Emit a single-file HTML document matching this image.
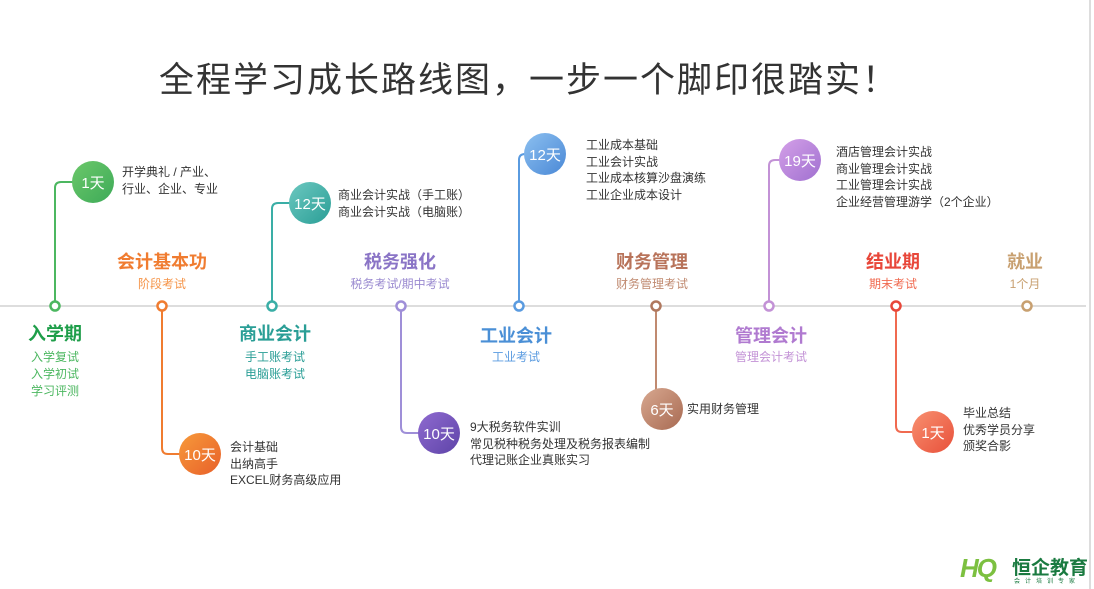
<!DOCTYPE html>
<html><head><meta charset="utf-8"><style>
body{margin:0;width:1094px;height:589px;background:#fff;position:relative;overflow:hidden;font-family:"Liberation Sans","Noto Sans CJK SC",sans-serif;}
.a{position:absolute;white-space:nowrap;}
.t{font-size:12px;color:#333;line-height:16.5px;}
.h{font-size:18px;font-weight:bold;transform:translateX(-50%);text-align:center;}
.s{font-size:12px;transform:translateX(-50%);text-align:center;line-height:17px;}
.c{position:absolute;border-radius:50%;color:#fff;font-size:15px;display:flex;align-items:center;justify-content:center;width:42px;height:42px;margin:-21px 0 0 -21px;}
</style></head><body>
<div class="a" style="left:0;right:0;top:52px;text-align:center;font-size:35px;letter-spacing:2px;color:#333;padding-right:36px;">全程学习成长路线图，一步一个脚印很踏实！</div>
<div style="position:absolute;left:1089px;top:0;width:2px;height:589px;background:#ddd"></div>
<svg width="1094" height="589" style="position:absolute;left:0;top:0">
<line x1="0" y1="306" x2="1086" y2="306" stroke="#ddd" stroke-width="2"/>
<g fill="none" stroke-width="2">
<path d="M55 306V188q0-6 6-6H80" stroke="#4cb760"/>
<path d="M162 306V448q0 6 6 6H185" stroke="#f07c30"/>
<path d="M272 306V209q0-6 6-6H295" stroke="#3aaea6"/>
<path d="M401 306V427q0 6 6 6H424" stroke="#9f8fd8"/>
<path d="M519 306V160q0-6 6-6H530" stroke="#5a9be0"/>
<path d="M656 306V403q0 6 6 6H648" stroke="#c08a70"/>
<path d="M769 306V166q0-6 6-6H785" stroke="#c392d6"/>
<path d="M896 306V426q0 6 6 6H918" stroke="#f06a50"/>
</g>
<g fill="#fff" stroke-width="2.5">
<circle cx="55" cy="306" r="4.5" stroke="#4cb760"/>
<circle cx="162" cy="306" r="4.5" stroke="#f07c30"/>
<circle cx="272" cy="306" r="4.5" stroke="#3aaea6"/>
<circle cx="401" cy="306" r="4.5" stroke="#9f8fd8"/>
<circle cx="519" cy="306" r="4.5" stroke="#5a9be0"/>
<circle cx="656" cy="306" r="4.5" stroke="#b0785e"/>
<circle cx="769" cy="306" r="4.5" stroke="#c392d6"/>
<circle cx="896" cy="306" r="4.5" stroke="#e8473a"/>
<circle cx="1027" cy="306" r="4.5" stroke="#c8a070"/>
</g>
</svg>
<div class="c" style="left:93px;top:182px;background:linear-gradient(135deg,#6cc86a,#3daa58)">1天</div>
<div class="c" style="left:310px;top:203px;background:linear-gradient(135deg,#6cc8c0,#2a9e96)">12天</div>
<div class="c" style="left:200px;top:454px;background:linear-gradient(135deg,#f79a3a,#e8602a)">10天</div>
<div class="c" style="left:439px;top:433px;background:linear-gradient(135deg,#8f6ad0,#5e44a8)">10天</div>
<div class="c" style="left:545px;top:154px;background:linear-gradient(135deg,#8cc0f0,#4a88d6)">12天</div>
<div class="c" style="left:662px;top:409px;background:linear-gradient(135deg,#d8a890,#a86a52)">6天</div>
<div class="c" style="left:800px;top:160px;background:linear-gradient(135deg,#d4a0e8,#a070d0)">19天</div>
<div class="c" style="left:933px;top:432px;background:linear-gradient(135deg,#f89070,#e8503a)">1天</div>

<div class="a t" style="left:122px;top:164px">开学典礼 / 产业、<br>行业、企业、专业</div>
<div class="a t" style="left:338px;top:187px">商业会计实战（手工账）<br>商业会计实战（电脑账）</div>
<div class="a t" style="left:230px;top:439px">会计基础<br>出纳高手<br>EXCEL财务高级应用</div>
<div class="a t" style="left:470px;top:419px">9大税务软件实训<br>常见税种税务处理及税务报表编制<br>代理记账企业真账实习</div>
<div class="a t" style="left:586px;top:137px">工业成本基础<br>工业会计实战<br>工业成本核算沙盘演练<br>工业企业成本设计</div>
<div class="a t" style="left:687px;top:401px">实用财务管理</div>
<div class="a t" style="left:836px;top:144px">酒店管理会计实战<br>商业管理会计实战<br>工业管理会计实战<br>企业经营管理游学（2个企业）</div>
<div class="a t" style="left:963px;top:405px">毕业总结<br>优秀学员分享<br>颁奖合影</div>

<div class="a h" style="left:55px;top:320px;color:#1f9e4a">入学期</div>
<div class="a s" style="left:55px;top:349px;color:#4cb760">入学复试<br>入学初试<br>学习评测</div>
<div class="a h" style="left:162px;top:248px;color:#f07c30">会计基本功</div>
<div class="a s" style="left:162px;top:276px;color:#f5954a">阶段考试</div>
<div class="a h" style="left:275px;top:320px;color:#2a9e96">商业会计</div>
<div class="a s" style="left:275px;top:349px;color:#2a9e96">手工账考试<br>电脑账考试</div>
<div class="a h" style="left:400px;top:248px;color:#8a74c6">税务强化</div>
<div class="a s" style="left:400px;top:276px;color:#9a8ad0">税务考试/期中考试</div>
<div class="a h" style="left:516px;top:322px;color:#4a8fd6">工业会计</div>
<div class="a s" style="left:516px;top:349px;color:#5a9be0">工业考试</div>
<div class="a h" style="left:652px;top:248px;color:#b8735a">财务管理</div>
<div class="a s" style="left:652px;top:276px;color:#c08a70">财务管理考试</div>
<div class="a h" style="left:771px;top:322px;color:#b07ad0">管理会计</div>
<div class="a s" style="left:771px;top:349px;color:#c392d6">管理会计考试</div>
<div class="a h" style="left:893px;top:248px;color:#e8473a">结业期</div>
<div class="a s" style="left:893px;top:276px;color:#f06a50">期末考试</div>
<div class="a h" style="left:1025px;top:248px;color:#c8a070">就业</div>
<div class="a s" style="left:1025px;top:276px;color:#c8a070">1个月</div>

<div class="a" style="left:960px;top:553px;font-size:26px;font-weight:bold;font-style:italic;color:#7cc040;letter-spacing:-2px">HQ</div>
<div class="a" style="left:1012px;top:553px;font-size:19px;font-weight:bold;color:#1a7a40">恒企教育</div>
<div class="a" style="left:1014px;top:576px;font-size:6px;color:#1a7a40;letter-spacing:5px">会计培训专家</div>
</body></html>
